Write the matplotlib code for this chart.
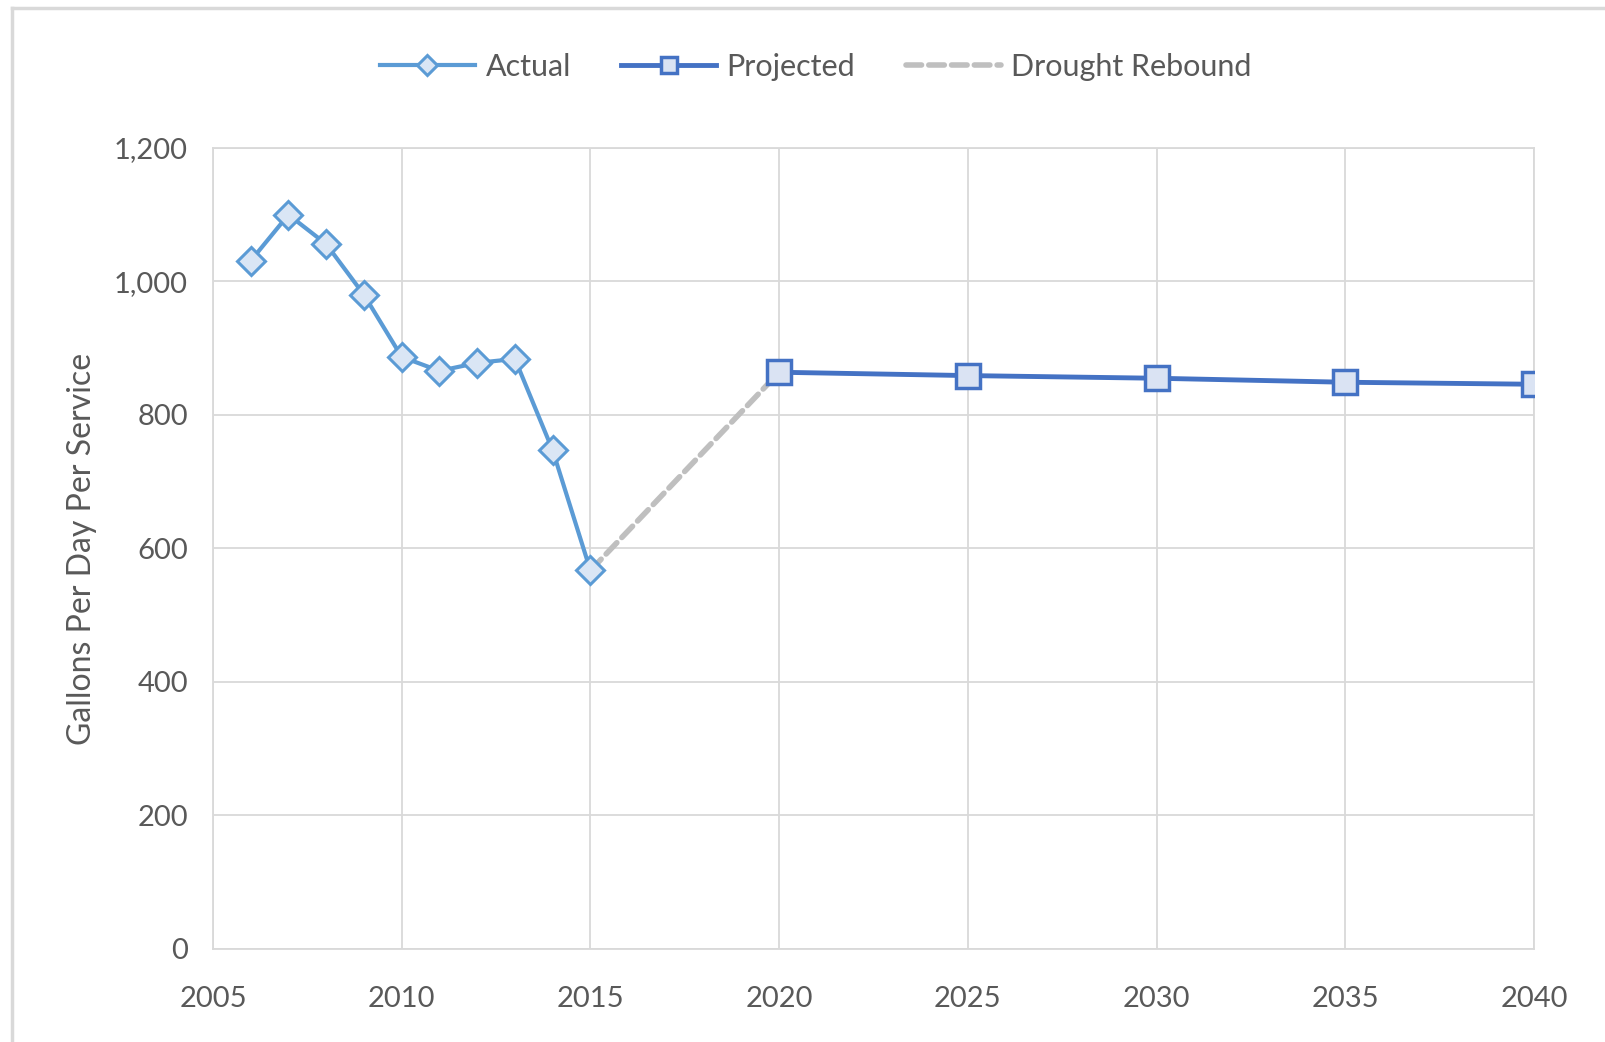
import matplotlib
matplotlib.use("Agg")
from matplotlib import pyplot as plt
from matplotlib.lines import Line2D
from matplotlib.ticker import FuncFormatter

plt.rcParams['font.family'] = ['Lato', 'DejaVu Sans']

# data
actual_years = [2006, 2007, 2008, 2009, 2010, 2011, 2012, 2013, 2014, 2015]
actual_gpd = [1031, 1100, 1056, 980, 887, 866, 878, 884, 747, 567]

projected_years = [2020, 2025, 2030, 2035, 2040]
projected_gpd = [864, 859, 855, 849, 846]

rebound_years = [2015, 2020]
rebound_gpd = [567, 864]

x_ticks = [2005, 2010, 2015, 2020, 2025, 2030, 2035, 2040]
y_ticks = [0, 200, 400, 600, 800, 1000, 1200]

text_col = "#595959"
grid_col = "#d9d9d9"

fig = plt.figure(figsize=(16.06, 10.42), dpi=100)
ax = fig.add_axes([0.1326, 0.0893, 0.8226, 0.7687])

# outer chart frame
fig.add_artist(Line2D([0.0075, 0.0075], [0, 0.9925], transform=fig.transFigure,
                      color=grid_col, lw=2.5))
fig.add_artist(Line2D([0.0075, 1], [0.9925, 0.9925], transform=fig.transFigure,
                      color=grid_col, lw=2.5))

ax.plot(rebound_years, rebound_gpd, color="#bfbfbf", lw=4, ls=(0, (2.8, 1.3)),
        dash_capstyle="round", label="Drought Rebound", zorder=2)
ax.plot(actual_years, actual_gpd, color="#5b9bd5", lw=3, marker="D", ms=14,
        mfc="#dae6f5", mec="#5b9bd5", mew=2.2, label="Actual", zorder=3)
ax.plot(projected_years, projected_gpd, color="#4472c4", lw=3.5, marker="s", ms=17,
        mfc="#dae3f3", mec="#4472c4", mew=2.5, label="Projected", zorder=3)

ax.set_xlim(2005, 2040)
ax.set_ylim(0, 1200)
ax.set_xticks(x_ticks)
ax.set_yticks(y_ticks)
ax.yaxis.set_major_formatter(FuncFormatter(lambda v, p: f"{int(v):,}"))
ax.grid(True, color=grid_col, lw=1.3)
ax.set_axisbelow(True)
for s in ax.spines.values():
    s.set_color(grid_col)
    s.set_linewidth(1.3)
ax.tick_params(length=0, labelsize=21, colors=text_col)
ax.tick_params(axis="x", pad=27)
ax.tick_params(axis="y", pad=18)

ax.set_ylabel("Gallons Per Day Per Service", fontsize=23, color=text_col, labelpad=12)

handles, labels = ax.get_legend_handles_labels()
order = [1, 2, 0]
fig.legend([handles[i] for i in order], [labels[i] for i in order],
           loc="center", bbox_to_anchor=(0.508, 0.936), ncol=3, frameon=False,
           fontsize=22, labelcolor=text_col, handlelength=3.1, columnspacing=1.65,
           handletextpad=0.35, markerscale=0.7)

fig.savefig("out.png", dpi=100, facecolor="white")
